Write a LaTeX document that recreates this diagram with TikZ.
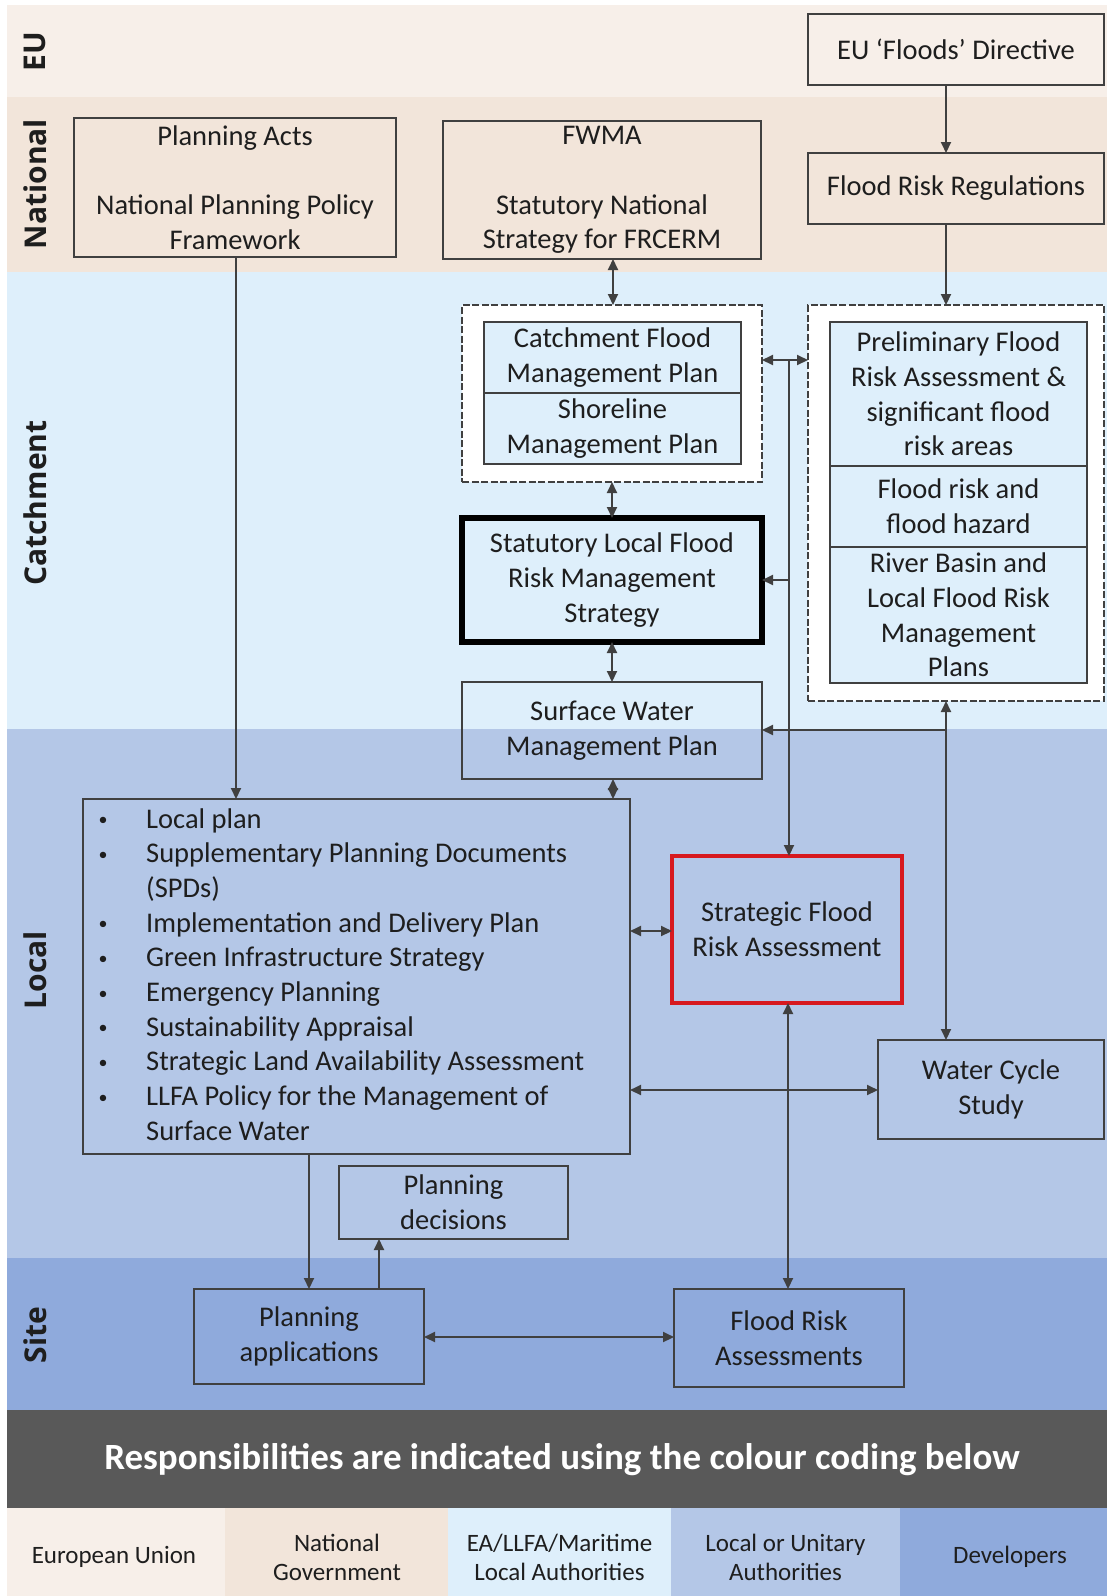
\documentclass[tikz,border=0pt]{standalone}
\usepackage{fontspec}
\setmainfont{Carlito}
\newfontfamily\bandfont{Open Sans}
\usetikzlibrary{arrows.meta}

\definecolor{euC}{HTML}{F7EFE9}
\definecolor{natC}{HTML}{F2E5DA}
\definecolor{catC}{HTML}{DEEFFB}
\definecolor{locC}{HTML}{B4C7E7}
\definecolor{siteC}{HTML}{8FAADC}
\definecolor{darkC}{HTML}{595959}
\definecolor{lineC}{HTML}{404040}
\definecolor{txtC}{HTML}{1E1E1E}
\definecolor{redC}{HTML}{D7191F}

% small list bullet followed by the hanging indent
\newcommand{\lbul}{\makebox[50pt][l]{\hspace{2.5pt}\raisebox{2.5pt}{\fontsize{18}{18}\selectfont\textbullet}}}
\newcommand{\lind}{\makebox[50pt][l]{}}

\begin{document}
\begin{tikzpicture}[x=1pt,y=-1pt,
  box/.style={draw=lineC, line width=2.5pt, align=center, text=txtC,
    font=\fontsize{28.5}{34.7}\selectfont, inner sep=0pt, outer sep=0pt},
  inbox/.style={box, fill=catC},
  dbox/.style={draw=lineC, line width=2.5pt, dash pattern=on 7pt off 2.5pt,
    fill=white, inner sep=0pt, outer sep=0pt},
  conn/.style={draw=lineC, line width=2pt},
  tip/.style={-{Triangle[length=11pt,width=10pt]}},
  dtip/.style={{Triangle[length=11pt,width=10pt]}-{Triangle[length=11pt,width=10pt]}},
  bandlbl/.style={rotate=90, text=txtC, font=\bandfont\bfseries\fontsize{30}{36}\selectfont},
  leglbl/.style={align=center, text=txtC, font=\fontsize{25}{29}\selectfont}
]
\useasboundingbox (0,0) rectangle (1107,1596);
\fill[white] (0,0) rectangle (1107,1596);

% level bands
\fill[euC]   (7,5)    rectangle (1107,97);
\fill[natC]  (7,97)   rectangle (1107,272);
\fill[catC]  (7,272)  rectangle (1107,729);
\fill[locC]  (7,729)  rectangle (1107,1258);
\fill[siteC] (7,1258) rectangle (1107,1410);
\fill[darkC] (7,1410) rectangle (1107,1508);

% colour key
\fill[euC]   (7,1508)   rectangle (225,1596);
\fill[natC]  (225,1508) rectangle (448,1596);
\fill[catC]  (448,1508) rectangle (671,1596);
\fill[locC]  (671,1508) rectangle (900,1596);
\fill[siteC] (900,1508) rectangle (1107,1596);

% band labels
\node[bandlbl] (lblEU)   at (35,52)   {EU};
\node[bandlbl] (lblNat)  at (35,184)  {National};
\node[bandlbl] (lblCat)  at (35,503)  {Catchment};
\node[bandlbl] (lblLoc)  at (35,970)  {Local};
\node[bandlbl] (lblSite) at (35,1335) {Site};

% EU and national documents
\node[box, minimum width=296pt, minimum height=71pt] (eu) at (956,49.5) {EU ‘Floods’ Directive};
\node[box, minimum width=296pt, minimum height=71pt] (frr) at (956,188.5) {Flood Risk Regulations};
\node[box, minimum width=322pt, minimum height=139pt] (pa) at (235,187.5)
  {Planning Acts\\[34.7pt]National Planning Policy\\Framework};
\node[box, minimum width=318pt, minimum height=138pt] (fwma) at (602,190)
  {FWMA\\[34.7pt]Statutory National\\Strategy for FRCERM};

% catchment plan groups
\node[dbox, minimum width=300pt, minimum height=177pt] (dl) at (612,393.5) {};
\node[inbox, minimum width=257pt, minimum height=71pt] (cfmp) at (612.5,357.5) {Catchment Flood\\Management Plan};
\node[inbox, minimum width=257pt, minimum height=71pt] (smp) at (612.5,428.5) {Shoreline\\Management Plan};

\node[dbox, minimum width=296pt, minimum height=396pt] (dr) at (956,503) {};
\node[inbox, minimum width=257pt, minimum height=144pt] (pfra) at (958.5,394)
  {Preliminary Flood\\Risk Assessment \&\\significant flood\\risk areas};
\node[inbox, minimum width=257pt, minimum height=81pt] (frh) at (958.5,506.5)
  {Flood risk and\\flood hazard};
\node[inbox, minimum width=257pt, minimum height=136pt] (rbmp) at (958.5,615)
  {River Basin and\\Local Flood Risk\\Management\\Plans};

\node[box, draw=black, line width=5.5pt, minimum width=300pt, minimum height=124pt] (slf) at (612,580)
  {Statutory Local Flood\\Risk Management\\Strategy};
\node[box, minimum width=300pt, minimum height=97pt] (swmp) at (612,730.5)
  {Surface Water\\Management Plan};

% local documents
\node[box, minimum width=547pt, minimum height=355pt] (list) at (356.5,976.5) {};
\node[anchor=base west, inner sep=0pt, text=txtC, font=\fontsize{28.5}{34.7}\selectfont] (listtxt) at (96,828)
  {\begin{tabular}[t]{@{}l@{}}
   \lbul Local plan\\
   \lbul Supplementary Planning Documents\\
   \lind (SPDs)\\
   \lbul Implementation and Delivery Plan\\
   \lbul Green Infrastructure Strategy\\
   \lbul Emergency Planning\\
   \lbul Sustainability Appraisal\\
   \lbul Strategic Land Availability Assessment\\
   \lbul LLFA Policy for the Management of\\
   \lind Surface Water
   \end{tabular}};

\node[box, draw=redC, line width=3.2pt, minimum width=230pt, minimum height=147pt] (sfra) at (787,929.5)
  {Strategic Flood\\Risk Assessment};
\node[box, minimum width=226pt, minimum height=99pt] (wcs) at (991,1089.5) {Water Cycle\\Study};
\node[box, minimum width=229pt, minimum height=73pt] (pd) at (453.5,1202.5) {Planning\\decisions};

% site documents
\node[box, minimum width=230pt, minimum height=95pt] (papp) at (309,1336.5) {Planning\\applications};
\node[box, minimum width=230pt, minimum height=98pt] (fra) at (789,1338) {Flood Risk\\Assessments};

% key texts
\node[text=white, font=\bfseries\fontsize{37}{42}\selectfont] (resp) at (562,1460)
  {Responsibilities are indicated using the colour coding below};
\node[leglbl] (kEU)  at (114,1557)   {European Union};
\node[leglbl] (kNat) at (337,1557)   {National\\Government};
\node[leglbl] (kCat) at (559.5,1557) {EA/LLFA/Maritime\\Local Authorities};
\node[leglbl] (kLoc) at (785.5,1557) {Local or Unitary\\Authorities};
\node[leglbl] (kDev) at (1010,1557)  {Developers};

% routing guides
\coordinate (xr) at (946,0);
\coordinate (xm) at (613,0);
\coordinate (xa) at (236,0);
\coordinate (xs) at (788,0);
\coordinate (xp) at (309,0);
\coordinate (xq) at (379,0);
\coordinate (j1) at (789,360);
\coordinate (j2) at (789,580);
\coordinate (j3) at (946,730);
\coordinate (yl1) at (0,931);
\coordinate (yl2) at (0,1090);
\coordinate (ys) at (0,1337);

% connectors
\draw[conn, tip]  (eu.south -| xr) -- (frr.north -| xr);
\draw[conn, tip]  (frr.south -| xr) -- (dr.north -| xr);
\draw[conn, dtip] (fwma.south -| xm) -- (dl.north -| xm);
\draw[conn, tip]  (pa.south -| xa) -- (list.north -| xa);
\draw[conn, dtip] (dl.east |- j1) -- (dr.west |- j1);
\draw[conn, tip]  (j1) -- (sfra.north -| j1);
\draw[conn, tip]  (j2) -- (slf.east |- j2);
\draw[conn, dtip] (dl.south) -- (slf.north);
\draw[conn, dtip] (slf.south) -- (swmp.north);
\draw[conn, dtip] (swmp.south -| xm) -- (list.north -| xm);
\draw[conn, dtip] (dr.south -| xr) -- (wcs.north -| xr);
\draw[conn, tip]  (j3) -- (swmp.east |- j3);
\draw[conn, dtip] (list.east |- yl1) -- (sfra.west |- yl1);
\draw[conn, dtip] (list.east |- yl2) -- (wcs.west |- yl2);
\draw[conn, dtip] (sfra.south -| xs) -- (fra.north -| xs);
\draw[conn, tip]  (list.south -| xp) -- (papp.north -| xp);
\draw[conn, tip]  (papp.north -| xq) -- (pd.south -| xq);
\draw[conn, dtip] (papp.east |- ys) -- (fra.west |- ys);
\end{tikzpicture}
\end{document}
